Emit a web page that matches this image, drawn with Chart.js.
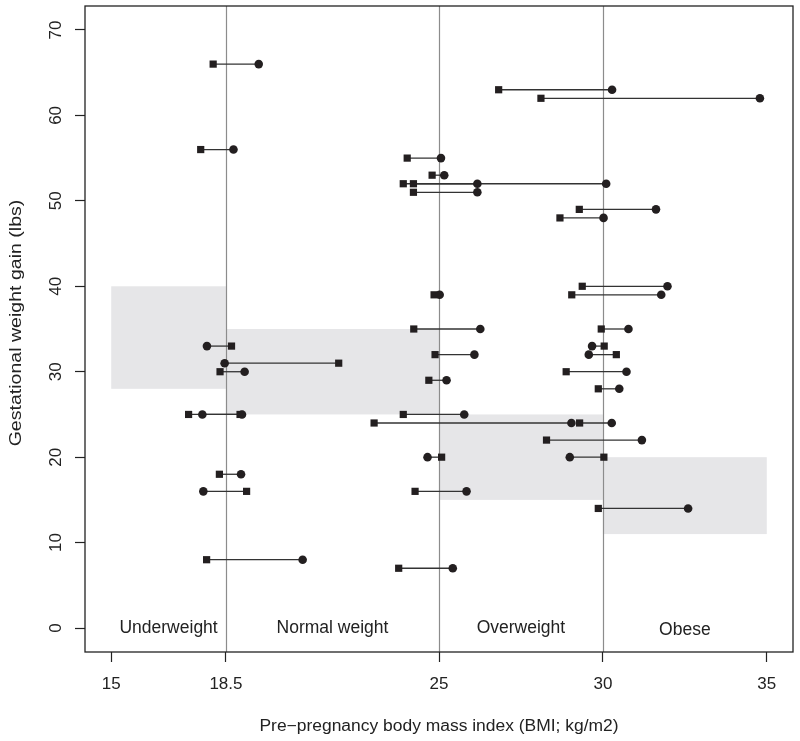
<!DOCTYPE html>
<html><head><meta charset="utf-8">
<script src="https://cdn.jsdelivr.net/npm/chart.js@4.4.1/dist/chart.umd.min.js"></script>
<style>html,body{margin:0;padding:0;background:#fff}#wrap{width:800px;height:741px;position:relative}</style>
</head><body><div id="wrap"><canvas id="c" width="800" height="741"></canvas></div>
<script>
// ---- data ----
const gainLbs   = [66, 56, 63, 62, 55, 53, 52, 52, 51, 49, 48, 40, 39, 39, 35, 35, 33, 33, 32, 32, 31, 30, 30, 29, 28, 25, 25, 25, 24, 24, 22, 20, 20, 18, 16, 16, 14, 8, 7];
const bmiSquare = [18.11, 17.73, 26.82, 28.11, 24.03, 24.79, 23.91, 24.22, 24.22, 29.28, 28.69, 29.37, 24.85, 29.05, 24.23, 29.95, 18.67, 30.04, 24.88, 30.41, 21.94, 18.32, 28.88, 24.69, 29.86, 17.36, 18.93, 23.91, 23.02, 29.29, 28.28, 25.08, 30.03, 18.30, 19.13, 24.27, 29.86, 17.91, 23.77];
const bmiCircle = [19.50, 18.73, 30.28, 34.79, 25.06, 25.16, 30.10, 26.17, 26.17, 31.62, 30.02, 31.97, 25.02, 31.78, 26.26, 30.78, 17.92, 29.67, 26.08, 29.57, 18.46, 19.07, 30.72, 25.23, 30.50, 18.99, 17.78, 25.77, 29.04, 30.27, 31.19, 24.65, 28.99, 18.96, 17.81, 25.84, 32.60, 20.84, 25.42];

const xTickValues = [15, 18.5, 25, 30, 35];
const yTickValues = [0, 10, 20, 30, 40, 50, 60, 70];

const categoryNames      = ['Underweight', 'Normal weight', 'Overweight', 'Obese'];
const categoryBmiFrom    = [15, 18.5, 25, 30];
const categoryBmiTo      = [18.5, 25, 30, 35];
const recommendedGainLow = [28, 25, 15, 11];
const recommendedGainHigh= [40, 35, 25, 20];
const cutoffBmi          = [18.5, 25, 30];

const xTitle = 'Pre\u2212pregnancy body mass index (BMI; kg/m2)';
const yTitle = 'Gestational weight gain (lbs)';

const FONT = "'Liberation Sans', Arial, Helvetica, sans-serif";
const INK = '#231f20';

// ---- datasets ----
const pairDatasets = gainLbs.map((g, i) => ({
  type: 'line',
  data: [{x: bmiSquare[i], y: g}, {x: bmiCircle[i], y: g}],
  borderColor: '#333333',
  borderWidth: 1.3,
  pointRadius: 0,
  fill: false,
  order: 5
}));
const squareSet = {
  type: 'scatter',
  data: gainLbs.map((g, i) => ({x: bmiSquare[i], y: g})),
  pointStyle: 'rect',
  pointRadius: 5.1,
  pointBackgroundColor: INK,
  pointBorderWidth: 0,
  order: 1
};
const circleSet = {
  type: 'scatter',
  data: gainLbs.map((g, i) => ({x: bmiCircle[i], y: g})),
  pointStyle: 'circle',
  pointRadius: 4.3,
  pointBackgroundColor: INK,
  pointBorderWidth: 0,
  order: 0
};

const decorPlugin = {
  id: 'decor',
  beforeDatasetsDraw(chart) {
    const {ctx, chartArea: a, scales: {x, y}} = chart;
    ctx.save();
    ctx.fillStyle = '#e6e6e8';
    for (let i = 0; i < categoryNames.length; i++) {
      const x0 = x.getPixelForValue(categoryBmiFrom[i]);
      const x1 = x.getPixelForValue(categoryBmiTo[i]);
      const y0 = y.getPixelForValue(recommendedGainHigh[i]);
      const y1 = y.getPixelForValue(recommendedGainLow[i]);
      ctx.fillRect(x0, y0, x1 - x0, y1 - y0);
    }
    ctx.strokeStyle = '#8c8c8c';
    ctx.lineWidth = 1.2;
    cutoffBmi.forEach(v => {
      const px = Math.round(x.getPixelForValue(v)) + 0.5;
      ctx.beginPath(); ctx.moveTo(px, a.top); ctx.lineTo(px, a.bottom); ctx.stroke();
    });
    ctx.fillStyle = '#222';
    ctx.font = '17.5px ' + FONT;
    ctx.textAlign = 'center';
    ctx.textBaseline = 'middle';
    for (let i = 0; i < categoryNames.length; i++) {
      const mid = (categoryBmiFrom[i] + categoryBmiTo[i]) / 2;
      const yy = y.getPixelForValue(i === 3 ? -0.25 : 0);
      ctx.fillText(categoryNames[i], x.getPixelForValue(mid), yy);
    }
    ctx.restore();
  },
  afterDraw(chart) {
    const {ctx, chartArea: a} = chart;
    ctx.save();
    ctx.strokeStyle = '#222';
    ctx.lineWidth = 1.3;
    ctx.strokeRect(a.left, a.top, a.right - a.left, a.bottom - a.top);
    // axis titles
    ctx.fillStyle = '#222';
    ctx.textAlign = 'center';
    ctx.textBaseline = 'middle';
    ctx.font = '16px ' + FONT;
    ctx.save();
    ctx.translate((a.left + a.right) / 2, 727);
    ctx.scale(1.09, 1);
    ctx.fillText(xTitle, 0, 0);
    ctx.restore();
    ctx.save();
    ctx.font = '17px ' + FONT;
    ctx.translate(16, (a.top + a.bottom) / 2 - 6);
    ctx.rotate(-Math.PI / 2);
    ctx.scale(1.15, 1);
    ctx.fillText(yTitle, 0, 0);
    ctx.restore();
    ctx.restore();
  }
};

new Chart(document.getElementById('c'), {
  data: {datasets: [...pairDatasets, squareSet, circleSet]},
  options: {
    responsive: false,
    animation: false,
    events: [],
    layout: {padding: {top: 6, right: 7, left: 0, bottom: 0}},
    plugins: {legend: {display: false}, tooltip: {enabled: false}},
    scales: {
      x: {
        type: 'linear',
        min: 14.2, max: 35.8,
        afterBuildTicks: s => { s.ticks = xTickValues.map(v => ({value: v})); },
        afterFit: s => { s.height = 89; s.paddingLeft = 0; s.paddingRight = 0; },
        ticks: {
          font: {family: FONT, size: 17}, color: '#222', padding: 12,
          maxRotation: 0, minRotation: 0, autoSkip: false,
          callback: v => String(v)
        },
        grid: {drawOnChartArea: false, drawTicks: true, tickLength: 10, color: '#222', tickWidth: 1.2},
        border: {display: false},
        title: {display: false}
      },
      y: {
        type: 'linear',
        min: -2.8, max: 72.8,
        afterBuildTicks: s => { s.ticks = yTickValues.map(v => ({value: v})); },
        afterFit: s => { s.width = 85; s.paddingTop = 0; s.paddingBottom = 0; },
        ticks: {
          font: {family: FONT, size: 17}, color: '#222', padding: 9,
          minRotation: 90, maxRotation: 90, crossAlign: 'center', autoSkip: false,
          callback: v => String(v)
        },
        grid: {drawOnChartArea: false, drawTicks: true, tickLength: 10, color: '#222', tickWidth: 1.2},
        border: {display: false},
        title: {display: false}
      }
    }
  },
  plugins: [decorPlugin]
});
</script>
</body></html>
